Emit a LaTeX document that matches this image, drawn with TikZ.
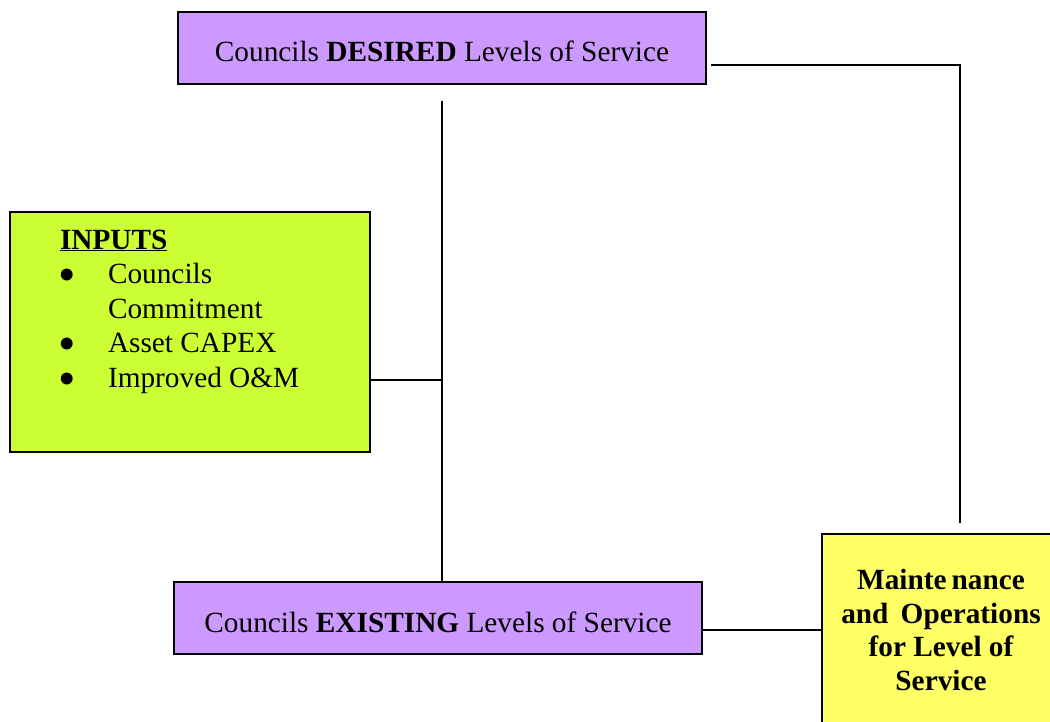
\documentclass[tikz,border=0pt]{standalone}
\usepackage{fontspec}
\setmainfont{Liberation Serif}
\usetikzlibrary{positioning,calc}
\definecolor{lvlpurple}{HTML}{CC99FF}
\definecolor{inputgreen}{HTML}{CCFF33}
\definecolor{mainyellow}{HTML}{FFFF66}
\tikzset{every picture/.style={line width=1.2pt}}
\tikzset{lvlbox/.style={draw,line width=1.5pt,fill=lvlpurple,minimum width=528pt,minimum height=72pt,
    inner sep=0pt,text height=28pt,text depth=0pt,font=\fontsize{29.3}{34.5}\selectfont}}
\tikzset{inputbox/.style={draw,line width=1.5pt,fill=inputgreen,inner sep=0pt,
    font=\fontsize{29.3}{34.5}\selectfont}}
\tikzset{mainbox/.style={draw,line width=1.5pt,fill=mainyellow,minimum width=238pt,minimum height=192pt,
    inner sep=0pt,align=center,font=\fontsize{29.3}{33.7}\selectfont\bfseries}}
\tikzset{link/.style={line width=1.2pt}}
\newcommand{\inbullet}{\makebox[48pt][l]{\hspace*{-2pt}\raisebox{-8pt}[0pt][0pt]{\scalebox{1.7}{\textbullet}}}}

\begin{document}
\begin{tikzpicture}[x=1pt,y=-1pt]
      \useasboundingbox (0,0) rectangle (1050,722);
      \clip (0,0) rectangle (1050,722);
      \node[lvlbox] (desired) at (442,48) {Councils \textbf{DESIRED} Levels of Service};
      \node[lvlbox] (existing) at (438,618) {Councils \textbf{EXISTING} Levels of Service};
      \node[inputbox] (inputs) at (190,332) {\parbox[c][240pt][t]{360pt}{%
        \rule{0pt}{37pt}\hspace*{50pt}\textbf{\underline{INPUTS}}\\
        \hspace*{50pt}\inbullet Councils\\
        \hspace*{98pt}Commitment\\
        \hspace*{50pt}\inbullet Asset CAPEX\\
        \hspace*{50pt}\inbullet Improved O\&M}};
      \node[mainbox] (maint) at (941,630) {Mainte\,nance\\and\, Operations\\for Level of\\Service};
      % connectors
      \coordinate (junction) at (442,380);
      \coordinate (corner) at (960,65);
      \draw[link] ([yshift=-16pt]desired.south) -- (desired.south |- existing.north);
      \draw[link] (inputs.east |- junction) -- (junction);
      \draw[link] (existing.east |- maint.west) -- (maint.west);
      \draw[link,shorten >=10pt] ([xshift=4pt]desired.east |- corner) -- (corner) -- (corner |- maint.north);
\end{tikzpicture}
\end{document}
